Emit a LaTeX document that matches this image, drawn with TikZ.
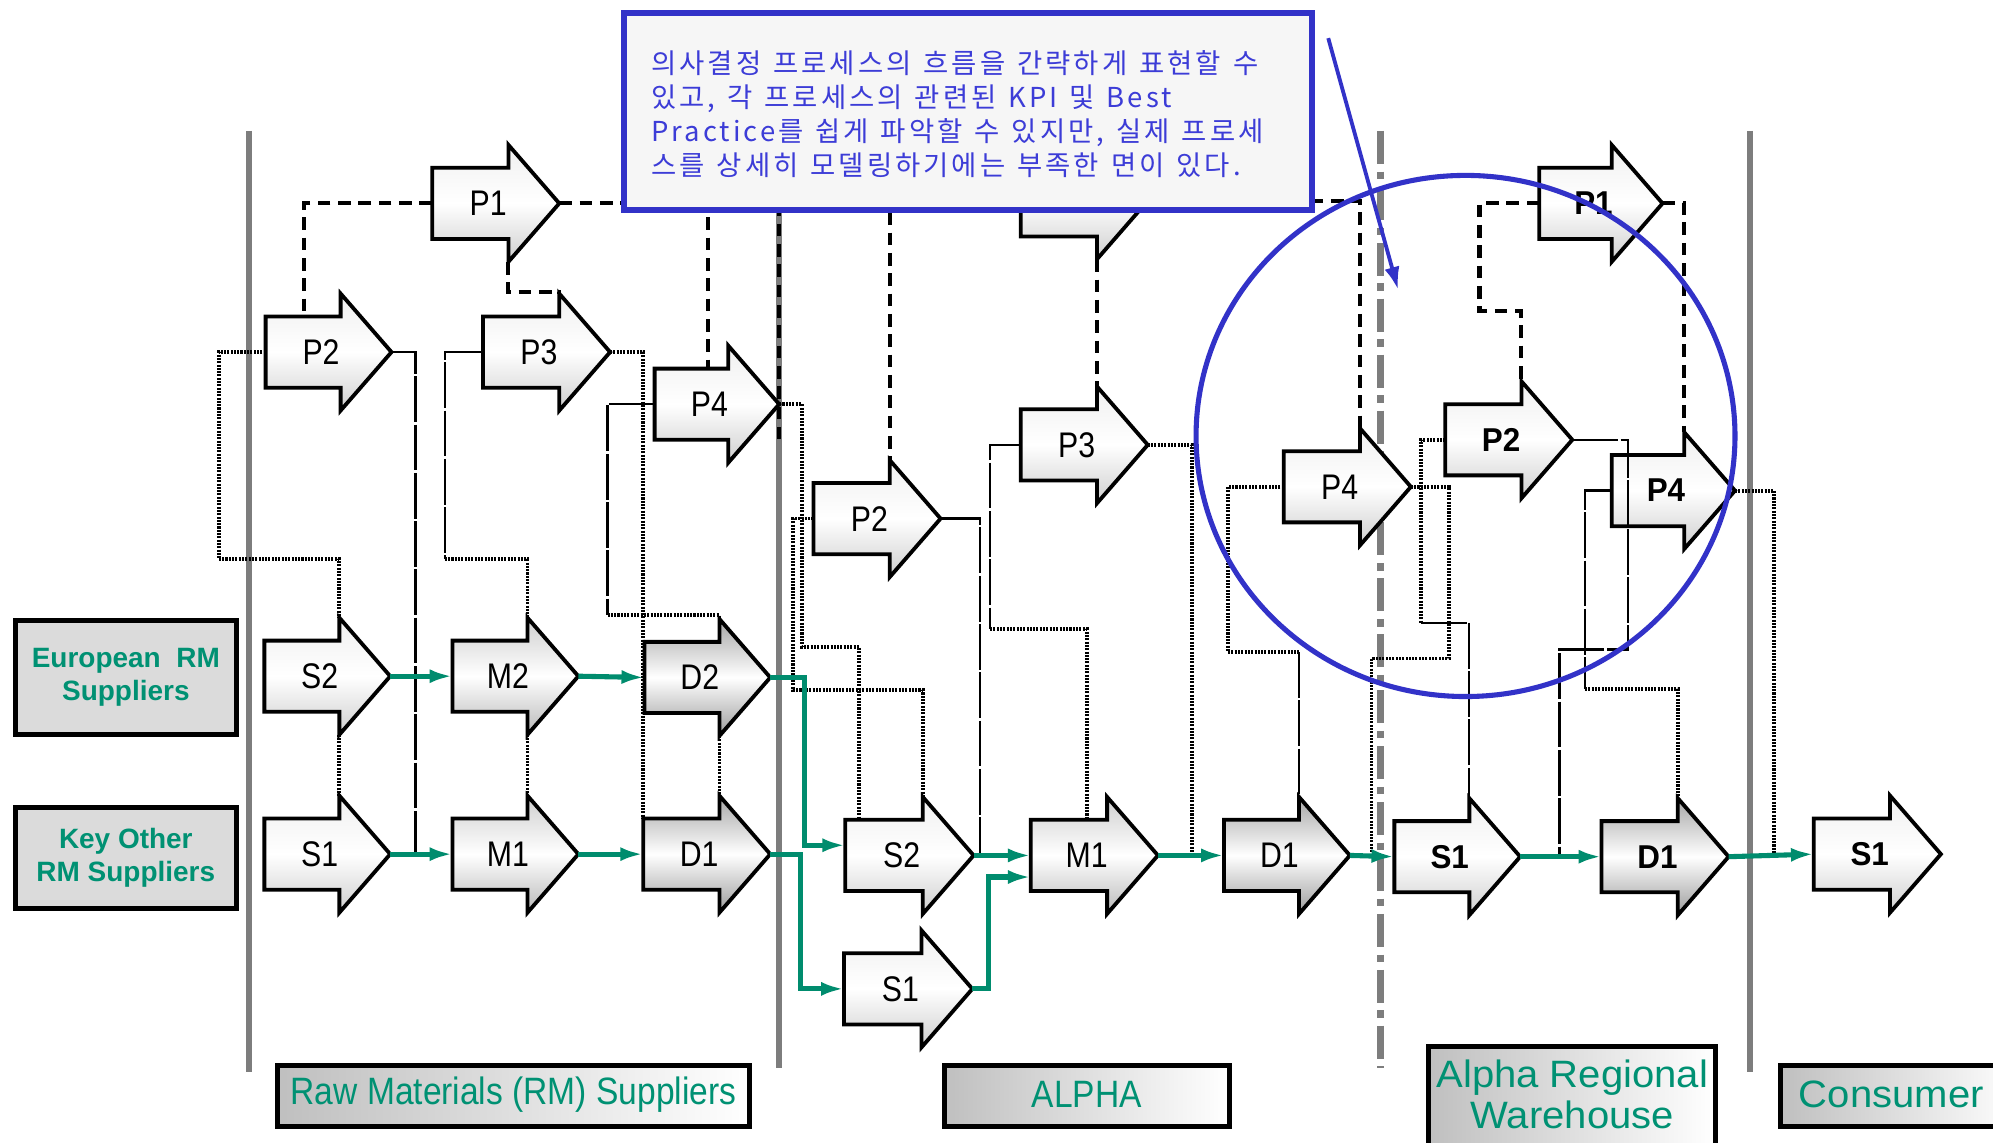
\documentclass[tikz,border=0pt]{standalone}
\usepackage{fontspec}
\setmainfont{Liberation Sans}
\newfontfamily\korfont[LetterSpace=11,WordSpace=1.3]{Noto Sans CJK KR}
\newfontfamily\condfont[FakeStretch=0.85]{Liberation Sans}
\newfontfamily\wfont[FakeStretch=0.95]{Liberation Sans}
\newfontfamily\botfont[FakeStretch=0.88]{Liberation Sans}
\newfontfamily\widefont[FakeStretch=1.05]{Liberation Sans}
\usetikzlibrary{arrows.meta,calc,shapes.geometric}
\definecolor{flowgreen}{RGB}{0,140,110}
\definecolor{labteal}{RGB}{0,145,115}
\definecolor{kblue}{RGB}{50,50,200}
\definecolor{ktext}{RGB}{60,60,215}
\definecolor{lanegray}{RGB}{125,125,125}
% #1 name, #2 left x, #3 centre y, #4 tip x, #5 shape style, #6 label style, #7 text
\newcommand\procarrow[7]{%
  \path[#5] (#2,#3-28) -- (#4-40,#3-28) -- (#4-40,#3-46) -- (#4,#3) -- (#4-40,#3+46) -- (#4-40,#3+28) -- (#2,#3+28) -- cycle;
  \coordinate (#1-w) at (#2,#3);
  \coordinate (#1-e) at (#4,#3);
  \coordinate (#1-tl) at (#2,#3-28);
  \coordinate (#1-bl) at (#2,#3+28);
  \coordinate (#1-ht) at (#4-40,#3-46);
  \coordinate (#1-hb) at (#4-40,#3+46);
  \node[#6] (#1) at ({#2+0.44*(#4-#2)},#3) {#7};
}
\begin{document}
\begin{tikzpicture}[x=0.5pt,y=-0.5pt,
  lane/.style={draw=lanegray, line width=2.5pt},
  lanedd/.style={draw=lanegray, line width=2.5pt, dash pattern=on 13pt off 3pt on 3pt off 3pt},
  shp/.style={draw=black, line width=1.5pt, line join=miter},
  lightshp/.style={shp, top color=gray!12, bottom color=gray!38, middle color=white},
  midshp/.style={shp, top color=gray!38, bottom color=gray!55, middle color=white},
  darkshp/.style={shp, top color=gray!70, bottom color=gray!78, middle color=white},
  plab/.style={font=\condfont\fontsize{14}{15}\selectfont, inner sep=0pt},
  wlab/.style={font=\wfont\bfseries\fontsize{13}{14}\selectfont, inner sep=0pt},
  dashln/.style={draw=black, line width=1.6pt, dash pattern=on 5pt off 3pt},
  dotln/.style={draw=black, line width=1.5pt, dash pattern=on 0.8pt off 0.5pt},
  thinln/.style={draw=black, line width=0.9pt, dash pattern=on 18pt off 1pt},
  flow/.style={draw=flowgreen, line width=2pt, -{Latex[length=9pt,width=5.5pt]}},
  sidebox/.style={draw=black, line width=2pt, fill=gray!28, align=center, text=labteal,
    font=\bfseries\fontsize{11}{13}\selectfont, inner sep=0pt},
  botbox/.style={draw=black, line width=2pt, left color=gray!50, right color=white},
  botlab/.style={text=labteal, inner sep=0pt, font=\botfont\fontsize{15}{16}\selectfont},
  widelab/.style={text=labteal, inner sep=0pt, align=center, font=\widefont\fontsize{15}{16}\selectfont},
]
\useasboundingbox (0,0) rectangle (1568,899);
\clip (0,0) rectangle (1568,899);
\fill[white] (0,0) rectangle (1568,899);

% lanes
\draw[lane] (196,103) -- (196,843);
\draw[lane] (613,103) -- (613,840);
\draw[lanedd] (1086,103) -- (1086,840);
\draw[lane] (1377,103) -- (1377,843);

% process arrows
\procarrow{rp1}{340}{160}{440}{lightshp}{plab}{P1}
\procarrow{rp2}{209}{277}{308}{lightshp}{plab}{P2}
\procarrow{rp3}{380}{277}{480}{lightshp}{plab}{P3}
\procarrow{rp4}{515}{318}{613}{lightshp}{plab}{P4}
\procarrow{rs2}{208}{532}{307}{lightshp}{plab}{S2}
\procarrow{rm2}{356}{532}{455}{midshp}{plab}{M2}
\procarrow{rd2}{507}{533}{606}{darkshp}{plab}{D2}
\procarrow{rs1}{208}{672}{307}{lightshp}{plab}{S1}
\procarrow{rm1}{356}{672}{455}{midshp}{plab}{M1}
\procarrow{rd1}{506}{672}{606}{darkshp}{plab}{D1}
\procarrow{ap1}{803}{158}{903}{lightshp}{plab}{P1}
\procarrow{ap2}{640}{408}{740}{lightshp}{plab}{P2}
\procarrow{ap3}{803}{350}{903}{lightshp}{plab}{P3}
\procarrow{as2}{665}{673}{766}{lightshp}{plab}{S2}
\procarrow{as1}{664}{778}{765}{lightshp}{plab}{S1}
\procarrow{am1}{811}{673}{911}{midshp}{plab}{M1}
\procarrow{ad1}{963}{673}{1062}{darkshp}{plab}{D1}
\procarrow{wp4l}{1010}{383}{1110}{lightshp}{plab}{P4}
\procarrow{wp1}{1211}{160}{1308}{lightshp}{wlab}{P1}
\procarrow{wp2}{1137}{346}{1237}{lightshp}{wlab}{P2}
\procarrow{wp4r}{1268}{386}{1365}{lightshp}{wlab}{P4}
\procarrow{ws1}{1097}{674}{1196}{lightshp}{wlab}{S1}
\procarrow{wd1}{1260}{674}{1360}{darkshp}{wlab}{D1}
\procarrow{cs1}{1427}{672}{1527}{lightshp}{wlab}{S1}

% junction points
\coordinate (j1) at (350,440);
\coordinate (j2) at (478,484);
\coordinate (j3) at (779,495);
\coordinate (j4) at (1022,513);
\coordinate (j5) at (1118,490);
\coordinate (j6) at (1247,542);
\coordinate (lnk) at (613,345);

% dashed P1 links
\draw[dashln] (rp1-w) -| ($(rp2-tl)+(30,0)$);
\draw[dashln] (rp1-e) -| ($(rp4-tl)+(42,0)$);
\draw[dashln] (rp1-hb) -- ($(rp1-hb)+(0,24)$) -| (rp3-ht);
\draw[dashln] (ap1-hb) -- (ap3-ht);
\draw[dashln] (ap1-w) -| (ap2-ht);
\draw[dashln] (ap1-w) -| (lnk);
\draw[dashln] (ap1-e) -| (wp4l-ht);
\draw[dashln] (wp1-w) -| (1164,245) -| (wp2-ht);
\draw[dashln] (wp1-e) -| (wp4r-ht);

% RM connectors
\draw[dotln] (rp2-w) -| (172,440) -| (rs2-ht);
\draw[dotln] (rs2-hb) -- (rs1-ht);
\draw[thinln] (rp2-e) -| ($(rm1-w)+(-29,0)$);
\draw[thinln] (rp3-w) -| (j1);
\draw[dotln] (j1) -| (rm2-ht);
\draw[dotln] (rm2-hb) -- (rm1-ht);
\draw[dotln] (rp3-e) -| (rd1-tl);
\draw[thinln] (rp4-w) -| (j2);
\draw[dotln] (j2) -| (rd2-ht);
\draw[dotln] (rd2-hb) -- (rd1-ht);
\draw[dotln] (rp4-e) -| (631,509) -| ($(as2-tl)+(11,0)$);

% ALPHA connectors
\draw[dotln] (ap2-w) -| (624,543) -| (as2-ht);
\draw[thinln] (ap2-e) -| ($(am1-w)+(-40,0)$);
\draw[thinln] (ap3-w) -| (j3);
\draw[dotln] (j3) -| ($(am1-tl)+(44,0)$);
\draw[dotln] (ap3-e) -| ($(ad1-w)+(-25,0)$);
\draw[dotln] (wp4l-w) -| (966,513) -- (j4);
\draw[thinln] (j4) -- (ad1-ht);

% warehouse connectors
\draw[dotln] (wp4l-e) -| (1140,518) -| ($(ws1-w)+(-18,0)$);
\draw[dotln] (wp2-w) -| (j5);
\draw[thinln] (j5) -| (ws1-ht);
\draw[thinln] (wp2-e) -| (1281,511) -| ($(wd1-w)+(-33,0)$);
\draw[thinln] (wp4r-w) -| (j6);
\draw[dotln] (j6) -| (wd1-ht);
\draw[dotln] (wp4r-e) -| ($(cs1-w)+(-31,0)$);

% material flows
\draw[flow] (rs2-e) -- (rm2-w);
\draw[flow] (rm2-e) -- (rd2-w);
\draw[flow] (rs1-e) -- (rm1-w);
\draw[flow] (rm1-e) -- (rd1-w);
\draw[flow] (rd2-e) -| ($(as2-w)+(-32,-8)$) -- ($(as2-w)+(0,-8)$);
\draw[flow] (rd1-e) -| ($(as1-w)+(-34,0)$) -- (as1-w);
\draw[flow] (as2-e) -- (am1-w);
\draw[flow] (as1-e) -| ($(am1-w)+(-33,17)$) -- ($(am1-w)+(0,17)$);
\draw[flow] (am1-e) -- (ad1-w);
\draw[flow] (ad1-e) -- (ws1-w);
\draw[flow] (ws1-e) -- (wd1-w);
\draw[flow] (wd1-e) -- (cs1-w);

% side labels
\node[sidebox, minimum width=87pt, minimum height=45pt] (eur) at (99,533) {European\ \ RM\\Suppliers};
\node[sidebox, minimum width=87pt, minimum height=40pt] (keyo) at (99,675) {Key Other\\RM Suppliers};

% bottom labels
\draw[botbox] (218,838) rectangle (590,886);
\node[botlab] (lrm) at (404,861) {Raw Materials (RM) Suppliers};
\draw[botbox] (743,838) rectangle (967,886);
\node[botlab] (lalpha) at (855,861) {ALPHA};
\draw[botbox] (1124,823) rectangle (1350,915);
\node[widelab] (lwh) at (1237,861) {Alpha Regional\\Warehouse};
\draw[botbox] (1401,838) rectangle (1590,886);
\node[widelab] (lcons) at (1488,861) {Consumer};

% annotation
\node[draw=kblue, line width=2.2pt, fill=gray!7, minimum width=270.5pt, minimum height=77.5pt, inner sep=0pt] (notebox) at (761.5,87.5) {};
\node[anchor=north west, inner sep=0pt, align=left, text=ktext, font=\korfont\fontsize{10.8}{13.5}\selectfont] (note) at (512,39)
  {의사결정 프로세스의 흐름을 간략하게 표현할 수\\있고, 각 프로세스의 관련된 KPI 및 Best\\Practice를 쉽게 파악할 수 있지만, 실제 프로세\\스를 상세히 모델링하기에는 부족한 면이 있다.};
\node[draw=kblue, line width=2pt, ellipse, minimum width=212pt, minimum height=205pt, inner sep=0pt] (focus) at (1153,343) {};
\coordinate (ptrs) at (1045,30);
\coordinate (ptre) at (1100,228);
\draw[kblue, line width=1.5pt, -{Latex[length=9pt,width=6pt]}] (ptrs) -- (ptre);
\end{tikzpicture}
\end{document}
